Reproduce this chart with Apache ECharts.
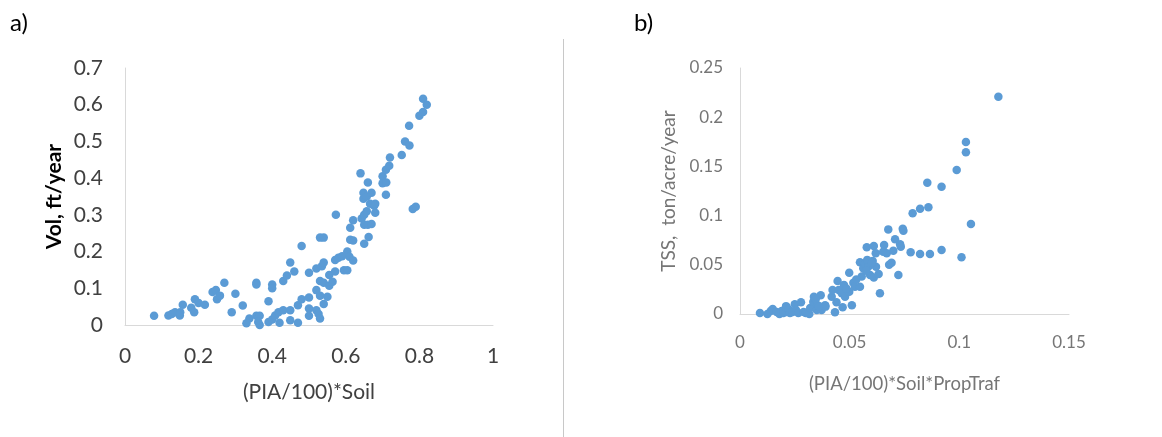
<!DOCTYPE html>
<html>
<head>
<meta charset="utf-8">
<script src="https://cdn.jsdelivr.net/npm/echarts@6/dist/echarts.min.js"></script>
<style>
html,body{margin:0;padding:0;background:#fff;}
#chart{width:1162px;height:437px;}
</style>
</head>
<body>
<div id="chart"></div>
<script>
// Panel a) data
var xA = [0.079,0.118,0.127,0.136,0.149,0.150,0.157,0.180,0.188,0.190,0.200,0.217,0.238,0.247,0.250,0.258,0.270,0.290,0.300,0.320,
0.330,0.338,0.357,0.357,0.357,0.366,0.362,0.366,0.390,0.390,0.400,0.400,0.400,0.408,0.417,0.420,0.430,0.430,0.440,0.449,
0.449,0.449,0.460,0.470,0.470,0.480,0.480,0.500,0.500,0.500,0.500,0.520,0.520,0.520,0.526,0.530,0.535,0.530,0.530,0.530,
0.540,0.540,0.540,0.540,0.550,0.555,0.555,0.564,0.573,0.571,0.571,0.580,0.590,0.595,0.604,0.604,0.610,0.612,0.612,0.620,
0.620,0.620,0.640,0.643,0.648,0.648,0.650,0.650,0.650,0.657,0.657,0.660,0.660,0.662,0.666,0.670,0.670,0.677,0.680,0.680,
0.700,0.700,0.710,0.709,0.709,0.718,0.720,0.752,0.761,0.773,0.772,0.782,0.790,0.800,0.810,0.810,0.820];
var yA = [0.025,0.026,0.030,0.035,0.026,0.035,0.055,0.047,0.035,0.070,0.060,0.055,0.090,0.095,0.070,0.080,0.115,0.035,0.085,0.053,
0.005,0.018,0.115,0.110,0.025,0.025,0.008,0.000,0.065,0.008,0.015,0.110,0.100,0.026,0.035,0.006,0.040,0.120,0.135,0.170,
0.040,0.013,0.146,0.006,0.054,0.215,0.070,0.142,0.075,0.045,0.025,0.154,0.095,0.040,0.030,0.238,0.160,0.120,0.080,0.018,
0.238,0.170,0.115,0.057,0.077,0.136,0.107,0.118,0.300,0.177,0.146,0.183,0.187,0.149,0.149,0.200,0.186,0.265,0.232,0.230,
0.176,0.285,0.413,0.290,0.344,0.360,0.300,0.273,0.221,0.350,0.310,0.388,0.273,0.240,0.330,0.360,0.275,0.325,0.306,0.330,
0.405,0.386,0.388,0.355,0.423,0.434,0.456,0.463,0.500,0.489,0.543,0.316,0.322,0.570,0.580,0.616,0.600];

// Panel b) data
var xB = [0.0091,0.0125,0.0140,0.0149,0.0167,0.0180,0.0190,0.0198,0.0210,0.0213,0.0220,0.0228,0.0240,0.0250,0.0255,0.0266,0.0278,0.0290,0.0300,0.0316,
0.0320,0.0334,0.0337,0.0350,0.0353,0.0368,0.0372,0.0388,0.0390,0.0418,0.0422,0.0433,0.0445,0.0450,0.0464,0.0468,0.0474,0.0479,0.0498,0.0498,
0.0510,0.0517,0.0524,0.0547,0.0547,0.0555,0.0562,0.0570,0.0578,0.0580,0.0585,0.0593,0.0605,0.0610,0.0610,0.0619,0.0620,0.0632,0.0638,0.0653,
0.0657,0.0669,0.0676,0.0680,0.0691,0.0699,0.0707,0.0722,0.0730,0.0733,0.0742,0.0745,0.0778,0.0787,0.0821,0.0821,0.0854,0.0859,0.0866,0.0919,
0.0919,0.0988,0.1010,0.1030,0.1030,0.1053,0.1178,0.0345,0.0360,0.0440,0.0485,0.0530,0.0575,0.0600];
var yB = [0.001,0.000,0.003,0.005,0.002,0.000,0.003,0.001,0.008,0.002,0.005,0.001,0.002,0.010,0.004,0.001,0.012,0.002,0.001,0.000,
0.006,0.0125,0.0176,0.004,0.009,0.019,0.004,0.009,0.0075,0.0176,0.0244,0.0017,0.0335,0.0244,0.021,0.0068,0.0295,0.0176,0.042,0.0227,
0.009,0.0318,0.0278,0.0525,0.0278,0.038,0.0464,0.0515,0.0678,0.055,0.048,0.0396,0.0539,0.069,0.037,0.0617,0.048,0.0406,0.021,0.0633,
0.070,0.0617,0.086,0.050,0.0522,0.0644,0.076,0.0396,0.071,0.0684,0.0867,0.0847,0.0627,0.1023,0.107,0.061,0.1335,0.1084,0.061,0.1294,
0.065,0.1463,0.0576,0.1748,0.1643,0.0915,0.2209,0.015,0.008,0.012,0.026,0.035,0.044,0.052];

var ptsA = xA.map(function(v,i){return [v, yA[i]];});
var ptsB = xB.map(function(v,i){return [v, yB[i]];});

var FONT = 'Lato, "Open Sans", sans-serif';
var AXC = '#d9d9d9';
var chart = echarts.init(document.getElementById('chart'), null, {renderer:'canvas'});
chart.setOption({
  animation:false,
  backgroundColor:'#ffffff',
  grid:[
    {left:125, right:669, top:68, bottom:112, containLabel:false},
    {left:740, right:93, top:68, bottom:123, containLabel:false}
  ],
  xAxis:[
    {gridIndex:0, type:'value', min:0, max:1, interval:0.2,
     axisLine:{show:true, lineStyle:{color:AXC, width:1}}, axisTick:{show:false}, splitLine:{show:false},
     axisLabel:{color:'#404040', fontSize:21, fontFamily:FONT, margin:21},
     name:'(PIA/100)*Soil', nameLocation:'middle', nameGap:57,
     nameTextStyle:{color:'#404040', fontSize:21, fontFamily:FONT}},
    {gridIndex:1, type:'value', min:0, max:0.15, interval:0.05,
     axisLine:{show:true, lineStyle:{color:AXC, width:1}}, axisTick:{show:false}, splitLine:{show:false},
     axisLabel:{color:'#767676', fontSize:17, fontFamily:FONT, margin:20},
     name:'(PIA/100)*Soil*PropTraf', nameLocation:'middle', nameGap:61,
     nameTextStyle:{color:'#767676', fontSize:18.5, fontFamily:FONT}}
  ],
  yAxis:[
    {gridIndex:0, type:'value', min:0, max:0.7, interval:0.1,
     axisLine:{show:true, lineStyle:{color:AXC, width:1}}, axisTick:{show:false}, splitLine:{show:false},
     axisLabel:{color:'#404040', fontSize:21, fontFamily:FONT, margin:22},
     name:'Vol, ft/year', nameLocation:'middle', nameGap:60,
     nameTextStyle:{color:'#000000', fontSize:21, fontWeight:'bold', fontFamily:FONT}},
    {gridIndex:1, type:'value', min:0, max:0.25, interval:0.05,
     axisLine:{show:true, lineStyle:{color:AXC, width:1}}, axisTick:{show:false}, splitLine:{show:false},
     axisLabel:{color:'#767676', fontSize:17, fontFamily:FONT, margin:17},
     name:'TSS,  ton/acre/year', nameLocation:'middle', nameGap:62,
     nameTextStyle:{color:'#767676', fontSize:19, fontFamily:FONT}}
  ],
  series:[
    {type:'scatter', xAxisIndex:0, yAxisIndex:0, data:ptsA, symbolSize:8.5,
     itemStyle:{color:'#5b9bd5', opacity:1}},
    {type:'scatter', xAxisIndex:1, yAxisIndex:1, data:ptsB, symbolSize:8.5,
     itemStyle:{color:'#5b9bd5', opacity:1}}
  ],
  graphic:[
    {type:'text', left:10, top:11, style:{text:'a)', fill:'#000', font:'24px '+FONT}},
    {type:'text', left:634, top:11, style:{text:'b)', fill:'#000', font:'24px '+FONT}},
    {type:'line', shape:{x1:563.5, y1:39, x2:563.5, y2:437}, style:{stroke:'#c8c8c8', lineWidth:1}}
  ]
});
</script>
</body>
</html>
